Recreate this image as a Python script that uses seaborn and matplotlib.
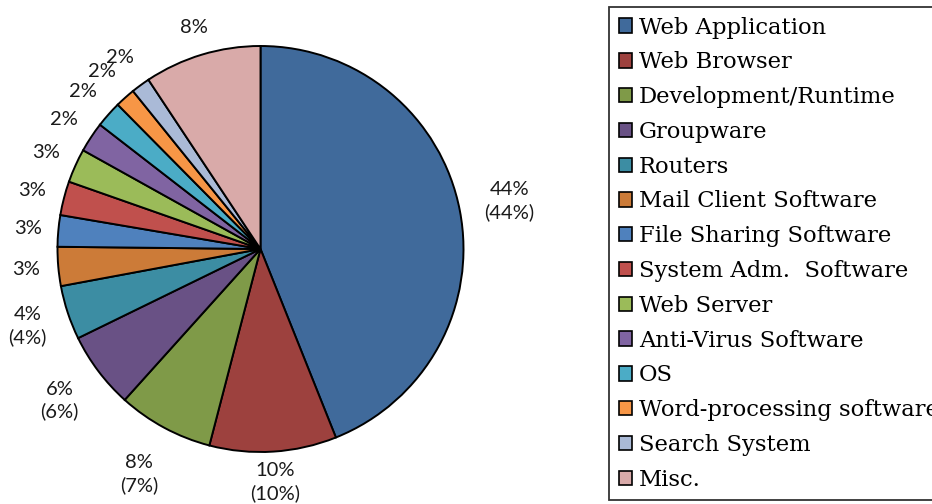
import matplotlib
matplotlib.use("Agg")
import numpy as np
import matplotlib.pyplot as plt
import seaborn as sns

categories = ["Web Application", "Web Browser", "Development/Runtime", "Groupware",
              "Routers", "Mail Client Software", "File Sharing Software",
              "System Adm.  Software", "Web Server", "Anti-Virus Software", "OS",
              "Word-processing software", "Search System", "Misc."]
shares = [43.9, 10.1, 7.6, 6.1, 4.3, 3.1, 2.5, 2.7, 2.7, 2.4, 2.1, 1.6, 1.5, 9.3]
slice_labels = ["44%\n(44%)", "10%\n(10%)", "8%\n(7%)", "6%\n(6%)", "4%\n(4%)",
                "3%", "3%", "3%", "3%", "2%", "2%", "2%", "2%", "8%"]
colors = ["#406A9B", "#9D413E", "#7F9A48", "#695185", "#3C8DA3", "#CC7B38",
          "#4F81BD", "#C0504D", "#9BBB59", "#8064A2", "#4BACC6", "#F79646",
          "#AABAD7", "#D9AAA9"]
label_dist = [1.25, 1.15, 1.26, 1.24, 1.21, 1.16, 1.15, 1.16, 1.16, 1.16, 1.17,
              1.17, 1.17, 1.14]

sns.set_style("white")
plt.rcParams["font.family"] = ["Lato", "DejaVu Sans"]

W, H, DPI = 932, 504, 100
fig = plt.figure(figsize=(W / DPI, H / DPI), dpi=DPI)
R = 203.0
cx, cy = 260.5, 504 - 249.0
ax = fig.add_axes([0, 0, 2 * cx / W, 1])

wedges, _ = ax.pie(shares, colors=colors, startangle=90, counterclock=False,
                   wedgeprops=dict(edgecolor="black", linewidth=1.4))
for w, lab, d in zip(wedges, slice_labels, label_dist):
    mid = np.deg2rad((w.theta1 + w.theta2) / 2)
    ax.text(d * np.cos(mid), d * np.sin(mid), lab, ha="center", va="center",
            fontsize=14.5, color="#1a1a1a", linespacing=1.35)

ax.set_xlim(-cx / R, cx / R)
ax.set_ylim(-cy / R, (H - cy) / R)
ax.set_aspect("equal", adjustable="box")
ax.axis("off")

leg = fig.legend(wedges, categories, loc="upper left",
                 bbox_to_anchor=(609 / W, 1 - 7 / H),
                 prop=dict(family="DejaVu Serif", size=16.3),
                 frameon=True, fancybox=False, edgecolor="black",
                 handlelength=0.6, handleheight=0.6, handletextpad=0.3,
                 labelspacing=0.565, borderpad=0.42, borderaxespad=0)
leg.get_frame().set_linewidth(1.3)
for t in leg.get_texts():
    t.set_color("black")
for h in leg.legend_handles:
    h.set_edgecolor("black")
    h.set_linewidth(1.2)

fig.savefig("out.png", dpi=DPI)
